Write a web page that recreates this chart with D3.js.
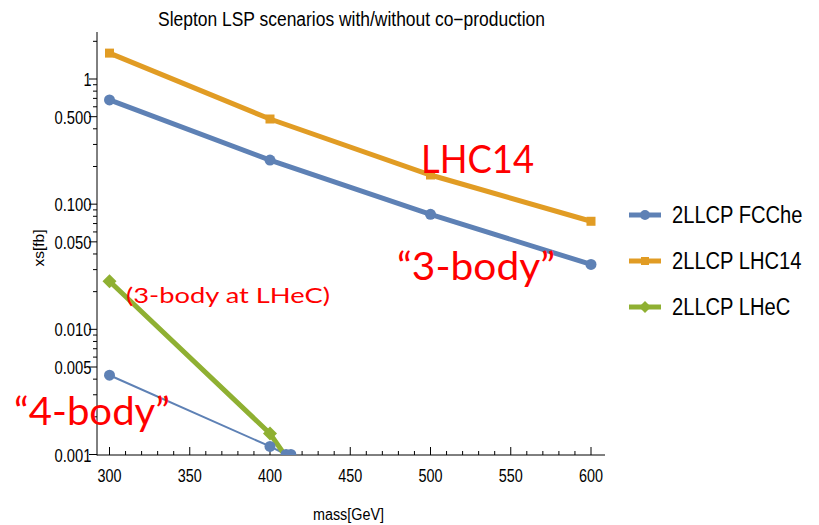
<!DOCTYPE html>
<html><head><meta charset="utf-8">
<script src="https://cdn.jsdelivr.net/npm/d3@7"></script>
<style>body{margin:0;background:#fff}svg{display:block}</style>
</head><body>
<svg id="c" width="819" height="525"></svg>
<script>
const title = "Slepton LSP scenarios with/without co\u2212production";
const xLabel = "mass[GeV]";
const yLabel = "xs[fb]";
const xTicks = [300, 350, 400, 450, 500, 550, 600];
const yTickLabels = ["0.001", "0.005", "0.010", "0.050", "0.100", "0.500", "1"];
const yTickValues = [0.001, 0.005, 0.01, 0.05, 0.1, 0.5, 1];

const fccheMass = [300, 400, 500, 600];
const fccheXs = [0.68, 0.225, 0.083, 0.033];
const fcche4Mass = [300, 400, 410, 413];
const fcche4Xs = [0.0043, 0.00116, 0.001, 0.001];
const lhc14Mass = [300, 400, 500, 600];
const lhc14Xs = [1.61, 0.479, 0.171, 0.073];
const lhecMass = [300, 400, 409];
const lhecXs = [0.0242, 0.00147, 0.001];

const legendNames = ["2LLCP FCChe", "2LLCP LHC14", "2LLCP LHeC"];
const colors = ["#5E81B5", "#E19C24", "#8FB032"];

const svg = d3.select("#c");
const x = d3.scaleLinear().domain([300, 600]).range([109.5, 591]);
const y = d3.scaleLog().domain([0.001, 1]).range([454.5, 79]);
const pLeft = 97, pRight = 605, pTop = 32, pBottom = 455;
const FONT = "Liberation Sans, Arial, sans-serif";

svg.append("defs").append("clipPath").attr("id", "clip")
  .append("rect").attr("x", pLeft).attr("y", pTop).attr("width", pRight - pLeft).attr("height", pBottom - pTop);

// title
svg.append("text").attr("x", 158).attr("y", 26)
  .attr("font-family", FONT).attr("font-size", 19.5)
  .attr("textLength", 387).attr("lengthAdjust", "spacingAndGlyphs")
  .text(title);

const ax = svg.append("g").attr("stroke", "#000").attr("stroke-width", 1);
ax.append("line").attr("x1", pLeft).attr("x2", pLeft).attr("y1", pTop).attr("y2", pBottom + 0.5);
ax.append("line").attr("x1", pLeft).attr("x2", pRight).attr("y1", pBottom).attr("y2", pBottom);

// x ticks
const xMinor = d3.range(300, 601, 10);
xMinor.forEach(v => {
  const major = v % 50 === 0;
  ax.append("line").attr("x1", x(v)).attr("x2", x(v)).attr("y1", pBottom).attr("y2", pBottom - (major ? 8 : 4));
});
svg.append("g").selectAll("text").data(xTicks).join("text")
  .attr("x", d => x(d)).attr("y", 482).attr("text-anchor", "middle")
  .attr("font-family", FONT).attr("font-size", 17.5)
  .attr("textLength", 24).attr("lengthAdjust", "spacingAndGlyphs")
  .text(d => d);

// y ticks
for (let e = -3; e <= 0; e++) {
  for (let m = 1; m <= 9; m++) {
    const v = m * Math.pow(10, e);
    if (v > 2.4) break;
    const major = (m === 1 || m === 5);
    ax.append("line").attr("x1", pLeft).attr("x2", pLeft - (major ? 8 : 4)).attr("y1", y(v)).attr("y2", y(v));
  }
}
svg.append("g").selectAll("text").data(yTickValues).join("text")
  .attr("x", 91.5).attr("y", d => y(d) + 7).attr("text-anchor", "end")
  .attr("font-family", FONT).attr("font-size", 17.5)
  .attr("textLength", (d, i) => yTickLabels[i].length === 1 ? 8 : 37)
  .attr("lengthAdjust", "spacingAndGlyphs")
  .text((d, i) => yTickLabels[i]);

// axis labels
svg.append("text").attr("x", 313).attr("y", 520)
  .attr("font-family", FONT).attr("font-size", 16)
  .attr("textLength", 71).attr("lengthAdjust", "spacingAndGlyphs").text(xLabel);
svg.append("text").attr("transform", "translate(43.5,248) rotate(-90)").attr("text-anchor", "middle")
  .attr("font-family", FONT).attr("font-size", 15)
  .attr("textLength", 37).attr("lengthAdjust", "spacingAndGlyphs")
  .text(yLabel);

const plot = svg.append("g").attr("clip-path", "url(#clip)");
const line = d3.line().x(d => x(d[0])).y(d => y(d[1]));
function zip(a, b) { return a.map((v, i) => [v, b[i]]); }

const sFcche = zip(fccheMass, fccheXs);
const sFcche4 = zip(fcche4Mass, fcche4Xs);
const sLhc = zip(lhc14Mass, lhc14Xs);
const sLhec = zip(lhecMass, lhecXs);

plot.append("path").attr("d", line(sLhc)).attr("fill", "none").attr("stroke", colors[1]).attr("stroke-width", 5);
plot.append("path").attr("d", line(sFcche)).attr("fill", "none").attr("stroke", colors[0]).attr("stroke-width", 5);
plot.append("path").attr("d", line(sFcche4)).attr("fill", "none").attr("stroke", colors[0]).attr("stroke-width", 2);
plot.append("path").attr("d", line(sLhec)).attr("fill", "none").attr("stroke", colors[2]).attr("stroke-width", 5);

function circles(g, data, col) {
  g.selectAll(null).data(data).join("circle").attr("cx", d => x(d[0])).attr("cy", d => y(d[1])).attr("r", 5.5).attr("fill", col);
}
function squares(g, data, col) {
  g.selectAll(null).data(data).join("rect").attr("x", d => x(d[0]) - 4.5).attr("y", d => y(d[1]) - 4.5).attr("width", 9).attr("height", 9).attr("fill", col);
}
function diamonds(g, data, col) {
  g.selectAll(null).data(data).join("path").attr("d", d => { const cx = x(d[0]), cy = y(d[1]); return `M${cx},${cy-7}L${cx+7},${cy}L${cx},${cy+7}L${cx-7},${cy}Z`; }).attr("fill", col);
}
squares(plot, sLhc, colors[1]);
circles(plot, sFcche, colors[0]);
circles(plot, sFcche4, colors[0]);
diamonds(plot, sLhec.slice(0, 2), colors[2]);

// legend
const lg = svg.append("g");
const ly = [215, 261, 307];
legendNames.forEach((n, i) => {
  lg.append("line").attr("x1", 629).attr("x2", 661).attr("y1", ly[i]).attr("y2", ly[i]).attr("stroke", colors[i]).attr("stroke-width", 5);
  const cx = 645, cy = ly[i];
  if (i === 0) lg.append("circle").attr("cx", cx).attr("cy", cy).attr("r", 5).attr("fill", colors[i]);
  if (i === 1) lg.append("rect").attr("x", cx - 4).attr("y", cy - 4).attr("width", 8).attr("height", 8).attr("fill", colors[i]);
  if (i === 2) lg.append("path").attr("d", `M${cx},${cy-6}L${cx+6},${cy}L${cx},${cy+6}L${cx-6},${cy}Z`).attr("fill", colors[i]);
  lg.append("text").attr("transform", `translate(672,${cy + 8}) scale(0.875,1)`).attr("font-family", FONT)
    .attr("font-size", 23).text(n);
});

// annotations
const ann = svg.append("g").attr("fill", "#FF0000").attr("font-family", "Lato, Carlito, sans-serif");
ann.append("text").attr("x", 421).attr("y", 173).attr("font-size", 38).attr("textLength", 113).attr("lengthAdjust", "spacingAndGlyphs").text("LHC14");
ann.append("text").attr("x", 397).attr("y", 280).attr("font-size", 38).attr("textLength", 158).attr("lengthAdjust", "spacingAndGlyphs").text("\u201C3-body\u201D");
ann.append("text").attr("x", 126).attr("y", 303).attr("font-size", 22).attr("textLength", 204).attr("lengthAdjust", "spacingAndGlyphs").text("(3-body at LHeC)");
ann.append("text").attr("x", 14).attr("y", 425).attr("font-size", 38).attr("textLength", 156).attr("lengthAdjust", "spacingAndGlyphs").text("\u201C4-body\u201D");
</script>
</body></html>
